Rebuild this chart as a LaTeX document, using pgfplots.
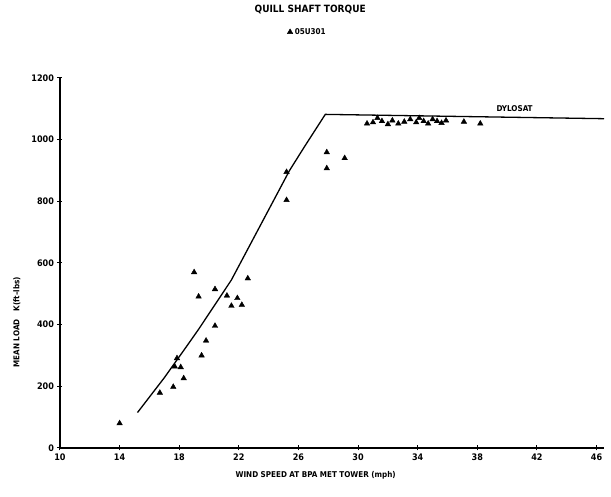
\documentclass[border=0pt]{standalone}
\usepackage{pgfplots}
\pgfplotsset{compat=1.18}
\usepackage{fontspec}
\setmainfont{DejaVu Sans Condensed}[BoldFont={DejaVu Sans Condensed Bold}]
\begin{document}
\begin{tikzpicture}
\begin{axis}[
  name=ax,
  scale only axis, width=544pt, height=370pt,
  xmin=10, xmax=46.5, ymin=0, ymax=1200,
  axis x line=bottom, axis y line=left,
  axis line style={-, line width=1.2pt},
  xtick={10,14,...,46}, ytick={0,200,...,1200},
  tick align=center, major tick length=5pt,
  tick style={black, line width=1pt},
  /pgf/number format/assume math mode=true,
  /pgf/number format/1000 sep={},
  ticklabel style={font=\bfseries\small},
  xlabel={\bfseries WIND SPEED AT BPA MET TOWER (mph)},
  ylabel={\bfseries MEAN LOAD\quad K(ft--lbs)},
  label style={font=\bfseries\footnotesize},
  xlabel style={at={(axis description cs:0.47,0)}, anchor=north, yshift=-20pt},
  ylabel style={at={(axis description cs:0,0.34)}, anchor=south, yshift=36pt},
  title={QUILL SHAFT TORQUE},
  title style={font=\bfseries, at={(axis description cs:0.46,1)}, anchor=south, yshift=54pt},
  legend style={at={(axis description cs:0.455,1)}, anchor=south, yshift=40pt, draw=none, fill=none, font=\bfseries\footnotesize, inner sep=0pt},
  legend cell align=left,
  clip=false,
]
\addplot[only marks, mark=triangle*, mark size=3.2pt, black] coordinates {
(14.0,80) (16.7,179) (17.6,198) (18.3,226) (18.1,262) (17.7,264) (17.85,291)
(19.5,300) (19.8,348) (20.4,396) (19.0,570) (19.3,491) (20.4,515) (21.2,494)
(21.5,461) (21.9,486) (22.2,464) (22.6,550) (25.2,895) (25.2,804)
(27.9,959) (27.9,907) (29.1,940)
(30.6,1052) (31.0,1056) (31.3,1070) (31.6,1060) (32.0,1050) (32.3,1062)
(32.7,1052) (33.1,1058) (33.5,1066) (33.9,1056) (34.1,1070) (34.4,1060)
(34.7,1052) (35.0,1066) (35.3,1060) (35.6,1054) (35.9,1062) (37.1,1058) (38.2,1052)
};
\addlegendentry{05U301}
\addplot[black, line width=1.3pt, forget plot] coordinates {
(15.2,115) (17.0,228) (18.5,330) (19.3,385) (21.5,545) (25.4,900) (26.4,977) (27.8,1082) (46.5,1068)
};
\node[font=\bfseries\footnotesize, anchor=south] at (axis cs:40.5,1080) {DYLOSAT};
\end{axis}
\pgfresetboundingbox
\path (ax.south west) ++(-60pt,-49pt) rectangle ++(611pt,497pt);
\end{tikzpicture}
\end{document}
